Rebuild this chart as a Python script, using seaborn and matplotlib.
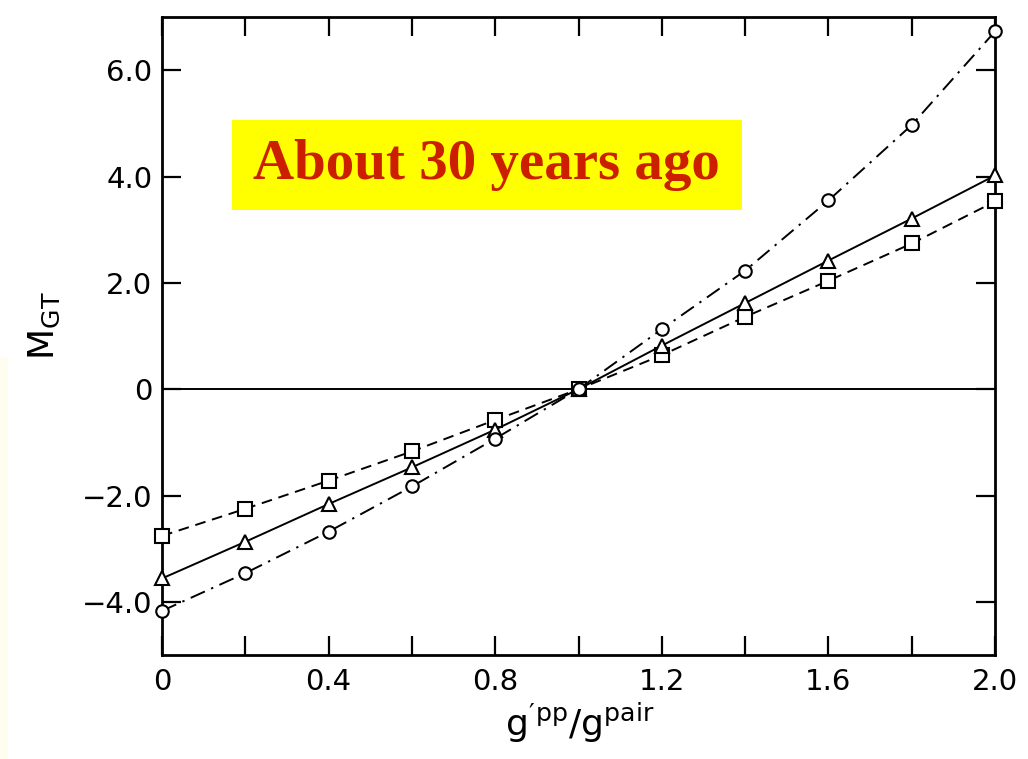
import numpy as np
import pandas as pd
import matplotlib
matplotlib.use("Agg")
import matplotlib.pyplot as plt
from matplotlib.patches import Rectangle
import seaborn as sns

# coupling ratio g'pp / g_pair
ratio = [0.0, 0.2, 0.4, 0.6, 0.8, 1.0, 1.2, 1.4, 1.6, 1.8, 2.0]

# Gamow-Teller matrix element for three calculations
m_square = [-2.76, -2.25, -1.72, -1.17, -0.58, 0.0, 0.64, 1.36, 2.04, 2.74, 3.53]
m_triangle = [-3.56, -2.87, -2.16, -1.47, -0.76, 0.0, 0.82, 1.62, 2.42, 3.21, 4.02]
m_circle = [-4.17, -3.46, -2.68, -1.83, -0.93, 0.0, 1.13, 2.23, 3.55, 4.97, 6.73]

x_tick_values = [0.0, 0.2, 0.4, 0.6, 0.8, 1.0, 1.2, 1.4, 1.6, 1.8, 2.0]
x_tick_labels = ["0", "", "0.4", "", "0.8", "", "1.2", "", "1.6", "", "2.0"]
y_tick_values = [-4.0, -2.0, 0.0, 2.0, 4.0, 6.0]
y_tick_labels = ["\u22124.0", "\u22122.0", "0", "2.0", "4.0", "6.0"]

banner_text = "About 30 years ago"

sns.set_style("ticks")
plt.rcParams["font.family"] = ["DejaVu Sans"]
plt.rcParams["mathtext.fontset"] = "dejavusans"

fig = plt.figure(figsize=(10.28, 7.59), dpi=100)
fig.patch.set_facecolor("white")
ax = fig.add_axes([0.1576, 0.137, 0.8104, 0.8406])

df = pd.DataFrame({"x": ratio, "sq": m_square, "tri": m_triangle, "cir": m_circle})

marker_kw = dict(markerfacecolor="white", markeredgecolor="black",
                 markeredgewidth=1.5, color="black", linewidth=1.4,
                 clip_on=False)

sns.lineplot(data=df, x="x", y="sq", ax=ax, marker="s", markersize=10.5,
             linestyle=(0, (5.5, 3.5)), zorder=5, **marker_kw)
sns.lineplot(data=df, x="x", y="tri", ax=ax, marker="^", markersize=9.5,
             linestyle="-", zorder=5, **marker_kw)
sns.lineplot(data=df, x="x", y="cir", ax=ax, marker="o", markersize=9,
             linestyle=(0, (8, 3.5, 1.2, 3.5)), zorder=5, **marker_kw)

ax.axhline(0.0, color="black", linewidth=1.4, zorder=1)

ax.set_xlim(0.0, 2.0)
ax.set_ylim(-5.0, 7.0)
ax.set_xticks(x_tick_values)
ax.set_xticklabels(x_tick_labels)
ax.set_yticks(y_tick_values)
ax.set_yticklabels(y_tick_labels)

ax.tick_params(axis="both", which="major", direction="in", length=14, width=1.6,
               top=True, right=True, labelsize=21, colors="black")
ax.tick_params(axis="x", pad=9)
ax.tick_params(axis="y", pad=7)

for side in ax.spines.values():
    side.set_linewidth(2.0)
    side.set_color("black")

ax.set_xlabel(r"$\mathregular{g'^{pp}/g^{pair}}$", fontsize=26, color="black")
ax.set_ylabel(r"$\mathregular{M_{GT}}$", fontsize=26, color="black")
ax.xaxis.set_label_coords(0.502, -0.072)
ax.yaxis.set_label_coords(-0.12, 0.517)

# highlighted banner
ax.add_patch(Rectangle((0.084, 0.6975), 0.612, 0.141, transform=ax.transAxes,
                       facecolor="#ffff00", edgecolor="none", zorder=3))
ax.text(0.39, 0.768, banner_text, transform=ax.transAxes, ha="center",
        va="center", fontsize=41, fontweight="bold", color="#cc1f00",
        family="Liberation Serif", zorder=4)

# faint tint along the left margin
fig.patches.append(Rectangle((0.0, 0.0), 0.008, 0.53, transform=fig.transFigure,
                             facecolor="#fffdf0", edgecolor="none", zorder=0))

fig.savefig("out.png", dpi=100)
